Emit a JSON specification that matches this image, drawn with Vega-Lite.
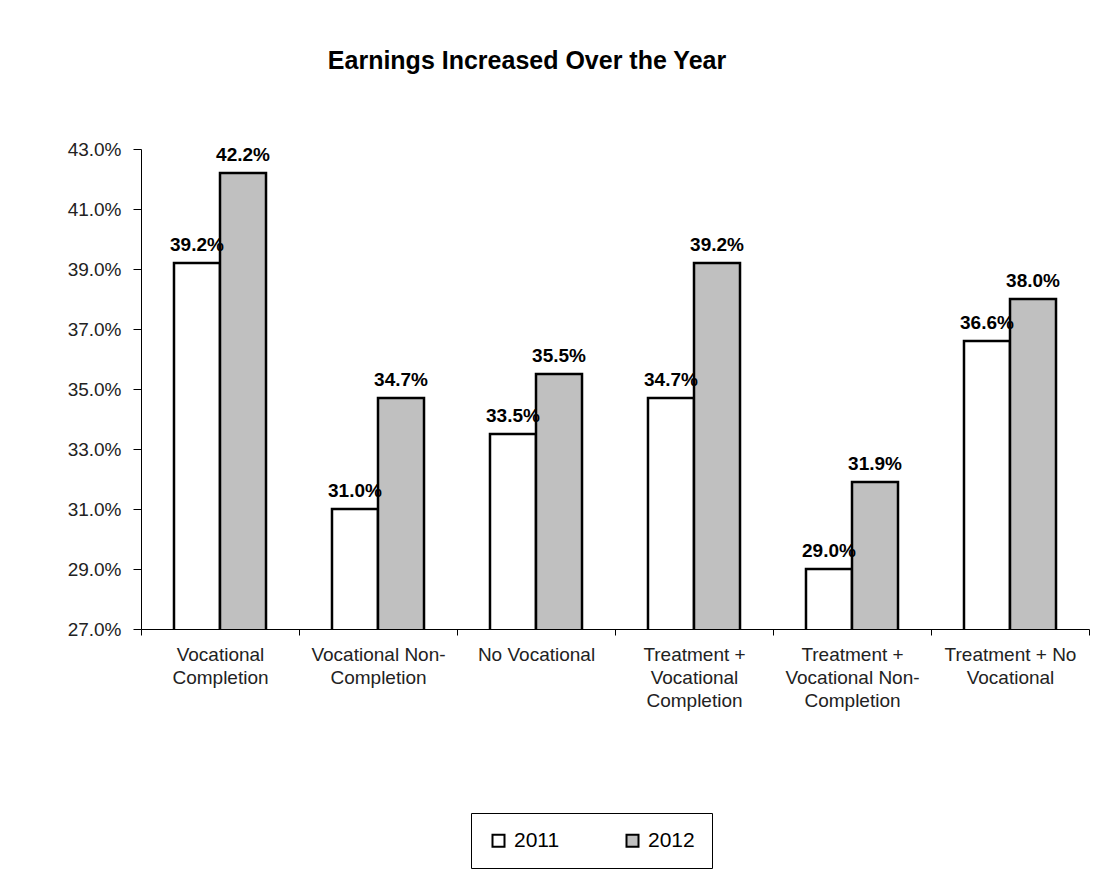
{
  "$schema": "https://vega.github.io/schema/vega-lite/v6.json",
  "autosize": {"type": "none"},
  "width": 948,
  "height": 480,
  "padding": {"left": 141, "top": 149, "right": 23, "bottom": 244},
  "background": "white",
  "title": {
    "text": "Earnings Increased Over the Year",
    "font": "Liberation Sans",
    "fontSize": 25,
    "fontWeight": "bold",
    "color": "black",
    "anchor": "middle",
    "frame": "group",
    "dx": -88,
    "offset": 66
  },
  "data": {
    "values": [
      {"program": "Vocational Completion", "year": "2011", "rate": 0.392},
      {"program": "Vocational Completion", "year": "2012", "rate": 0.422},
      {"program": "Vocational Non-Completion", "year": "2011", "rate": 0.310},
      {"program": "Vocational Non-Completion", "year": "2012", "rate": 0.347},
      {"program": "No Vocational", "year": "2011", "rate": 0.335},
      {"program": "No Vocational", "year": "2012", "rate": 0.355},
      {"program": "Treatment + Vocational Completion", "year": "2011", "rate": 0.347},
      {"program": "Treatment + Vocational Completion", "year": "2012", "rate": 0.392},
      {"program": "Treatment + Vocational Non-Completion", "year": "2011", "rate": 0.290},
      {"program": "Treatment + Vocational Non-Completion", "year": "2012", "rate": 0.319},
      {"program": "Treatment + No Vocational", "year": "2011", "rate": 0.366},
      {"program": "Treatment + No Vocational", "year": "2012", "rate": 0.380}
    ]
  },
  "encoding": {
    "x": {
      "field": "program",
      "type": "nominal",
      "sort": null,
      "scale": {"paddingInner": 0, "paddingOuter": 0},
      "axis": {
        "title": null,
        "labelAngle": 0,
        "tickBand": "extent",
        "labelFont": "Liberation Sans",
        "labelFontSize": 19,
        "labelColor": "#222",
        "labelLineHeight": 23,
        "labelBaseline": "top",
        "labelPadding": 10,
        "labelLimit": 200,
        "tickSize": 6,
        "tickColor": "black",
        "domainColor": "black",
        "domainWidth": 1,
        "zindex": 1,
        "labelExpr": "datum.value == 'Vocational Completion' ? ['Vocational','Completion'] : datum.value == 'Vocational Non-Completion' ? ['Vocational Non-','Completion'] : datum.value == 'Treatment + Vocational Completion' ? ['Treatment +','Vocational','Completion'] : datum.value == 'Treatment + Vocational Non-Completion' ? ['Treatment +','Vocational Non-','Completion'] : datum.value == 'Treatment + No Vocational' ? ['Treatment + No','Vocational'] : datum.label"
      }
    },
    "xOffset": {
      "field": "year",
      "type": "nominal",
      "scale": {"paddingInner": 0, "paddingOuter": 0.717}
    },
    "y": {
      "field": "rate",
      "type": "quantitative",
      "scale": {"domain": [0.27, 0.43], "zero": false, "nice": false},
      "axis": {
        "title": null,
        "values": [0.27, 0.29, 0.31, 0.33, 0.35, 0.37, 0.39, 0.41, 0.43],
        "format": ".1%",
        "grid": false,
        "labelFont": "Liberation Sans",
        "labelFontSize": 19,
        "labelColor": "#222",
        "labelPadding": 12,
        "tickSize": 8,
        "tickColor": "black",
        "domainColor": "black",
        "domainWidth": 1
      }
    }
  },
  "layer": [
    {
      "mark": {"type": "bar", "stroke": "black", "strokeWidth": 2.5, "clip": true},
      "encoding": {
        "fill": {
          "field": "year",
          "type": "nominal",
          "scale": {"domain": ["2011", "2012"], "range": ["#FFFFFF", "#C0C0C0"]},
          "legend": {
            "title": null,
            "orient": "none",
            "direction": "horizontal",
            "legendX": 330,
            "legendY": 664,
            "strokeColor": "black",
            "fillColor": "white",
            "padding": 17,
            "symbolType": "square",
            "symbolSize": 144,
            "symbolStrokeColor": "black",
            "symbolStrokeWidth": 2,
            "symbolOpacity": 1,
            "labelFont": "Liberation Sans",
            "labelFontSize": 21,
            "labelColor": "black",
            "labelOffset": 5,
            "columnPadding": 62
          }
        }
      }
    },
    {
      "mark": {
        "type": "text",
        "font": "Liberation Sans",
        "fontSize": 19,
        "fontWeight": "bold",
        "color": "black",
        "baseline": "alphabetic",
        "dy": -12
      },
      "encoding": {
        "text": {"field": "rate", "type": "quantitative", "format": ".1%"}
      }
    }
  ],
  "config": {
    "view": {"stroke": null}
  }
}
